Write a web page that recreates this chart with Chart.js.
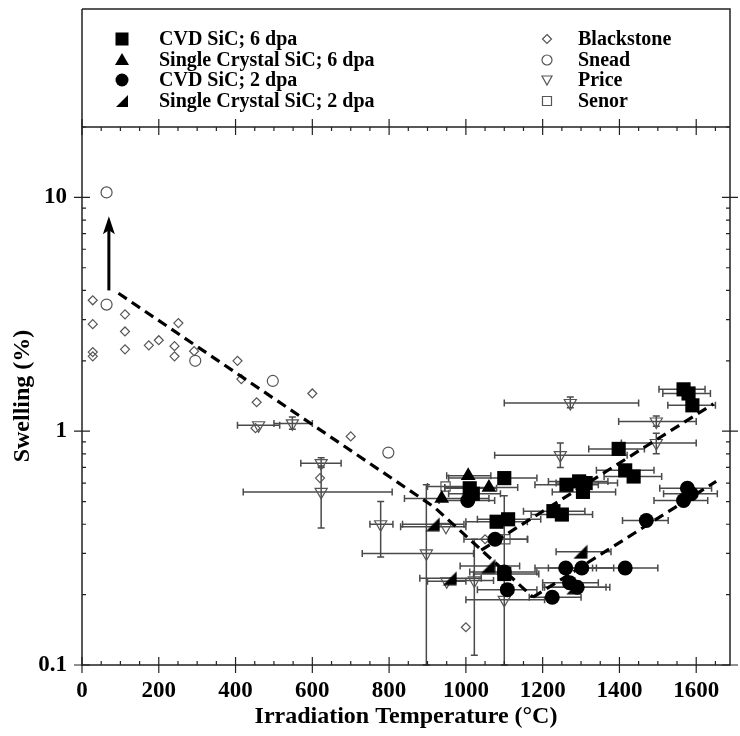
<!DOCTYPE html>
<html>
<head>
<meta charset="utf-8">
<script src="https://cdn.jsdelivr.net/npm/chart.js@4.4.1/dist/chart.umd.min.js"></script>
<style>
html,body{margin:0;padding:0;background:#fff;}
canvas{display:block;}
</style>
</head>
<body>
<canvas id="c" width="740" height="736" style="width:740px;height:736px"></canvas>
<script>
// ---------- tick labels ----------
const xTickValues = [0, 200, 400, 600, 800, 1000, 1200, 1400, 1600];
const yTickValues = [0.1, 1, 10];

// ---------- CVD SiC; 6 dpa (filled squares) ----------
const cvd6T  = [1010, 1018, 1100, 1080, 1110, 1100, 1228, 1250, 1262, 1295, 1305, 1312, 1398, 1415, 1437, 1567, 1580, 1590];
const cvd6S  = [0.57, 0.54, 0.63, 0.41, 0.42, 0.245, 0.455, 0.44, 0.59, 0.61, 0.55, 0.60, 0.84, 0.68, 0.64, 1.51, 1.45, 1.29];
const cvd6Lo = [945, 955, 955, 1000, 1030, 1020, 1150, 1170, 1180, 1215, 1225, 1235, 1320, 1340, 1360, 1503, 1513, 1526];
const cvd6Hi = [1080, 1090, 1185, 1160, 1195, 1190, 1310, 1330, 1345, 1370, 1390, 1395, 1465, 1490, 1510, 1623, 1637, 1650];

// ---------- Single Crystal SiC; 6 dpa (filled triangles) ----------
const sc6T  = [937, 1006, 1060];
const sc6S  = [0.515, 0.645, 0.575];
const sc6Lo = [840, 950, 945];
const sc6Hi = [1060, 1065, 1135];

// ---------- CVD SiC; 2 dpa (filled circles) ----------
const cvd2T  = [1005, 1076, 1100, 1108, 1225, 1260, 1302, 1270, 1290, 1415, 1470, 1577, 1587, 1567];
const cvd2S  = [0.505, 0.345, 0.25, 0.21, 0.195, 0.26, 0.26, 0.225, 0.215, 0.26, 0.415, 0.57, 0.54, 0.505];
const cvd2Lo = [930, 995, 1010, 1030, 1165, 1180, 1215, 1200, 1205, 1330, 1408, 1505, 1515, 1490];
const cvd2Hi = [1075, 1160, 1185, 1185, 1300, 1340, 1385, 1345, 1375, 1500, 1527, 1640, 1655, 1630];

// ---------- Single Crystal SiC; 2 dpa (filled right triangles) ----------
const sc2T  = [914, 958, 1058, 1280, 1298];
const sc2S  = [0.40, 0.235, 0.265, 0.215, 0.305];
const sc2Lo = [835, 880, 985, 1200, 1235];
const sc2Hi = [995, 1040, 1140, 1365, 1378];

// ---------- Blackstone (open diamonds) ----------
const blackT = [28, 28, 28, 28, 112, 112, 112, 174, 200, 241, 241, 251, 292, 405, 415, 455, 452, 600, 620, 700, 1000, 1050];
const blackS = [3.63, 2.87, 2.18, 2.09, 3.16, 2.67, 2.24, 2.33, 2.45, 2.31, 2.09, 2.9, 2.2, 2.0, 1.67, 1.33, 1.03, 1.45, 0.63, 0.95, 0.145, 0.345];

// ---------- Snead (open circles) ----------
const sneadT = [64, 64, 295, 497, 798];
const sneadS = [10.5, 3.48, 2.0, 1.64, 0.81];

// ---------- Price (open down triangles) ----------
const priceT   = [460, 548, 623, 623, 778, 897, 948, 950, 1022, 1100, 1246, 1272, 1496, 1496];
const priceS   = [1.06, 1.08, 0.73, 0.55, 0.40, 0.30, 0.39, 0.228, 0.23, 0.19, 0.79, 1.32, 1.10, 0.89];
const priceTLo = [405, 500, 570, 420, 750, 730, 830, 900, 960, 1000, 1075, 1100, 1398, 1405];
const priceTHi = [515, 600, 675, 808, 810, 1020, 1000, 1000, 1072, 1205, 1420, 1450, 1600, 1600];
const priceSLo = [1.06, 1.02, 0.70, 0.385, 0.29, 0.1, 0.39, 0.228, 0.11, 0.1, 0.70, 1.26, 1.05, 0.80];
const priceSHi = [1.06, 1.15, 0.77, 0.71, 0.50, 0.59, 0.39, 0.228, 0.345, 0.53, 0.89, 1.40, 1.16, 0.98];

// ---------- Senor (open squares) ----------
const senorT  = [947, 1103];
const senorS  = [0.58, 0.345];
const senorLo = [900, 1059];
const senorHi = [1000, 1161];

// ---------- dashed trend lines ----------
const lineAT = [95, 918, 1175];
const lineAS = [3.89, 0.473, 0.195];
const lineBT = [1040, 1645];
const lineBS = [0.31, 1.31];
const lineCT = [1175, 1652];
const lineCS = [0.195, 0.61];

// ---------- arrow (Snead lower bound) ----------
const arrowT = [70, 70];
const arrowS = [4.0, 8.3];

// ---------- legend ----------
const legendLeft  = ['CVD SiC; 6 dpa', 'Single Crystal SiC; 6 dpa', 'CVD SiC; 2 dpa', 'Single Crystal SiC; 2 dpa'];
const legendRight = ['Blackstone', 'Snead', 'Price', 'Senor'];

// ======================================================
const FONT = "'Liberation Serif', 'Times New Roman', serif";
Chart.defaults.font.family = FONT;
Chart.defaults.color = '#000';

function pts(T, S) { return T.map((t, i) => ({x: t, y: S[i]})); }

// right triangle marker (right angle at bottom-right)
const rtri = document.createElement('canvas');
rtri.width = 15; rtri.height = 15;
(function () {
  const g = rtri.getContext('2d');
  g.fillStyle = '#000';
  g.beginPath(); g.moveTo(14.5, 0.5); g.lineTo(14.5, 14.5); g.lineTo(0.5, 14.5); g.closePath(); g.fill();
})();

const GREY = '#555';

const errorBars = {
  id: 'errorBars',
  beforeDatasetsDraw(chart) {
    const {ctx, scales: {x, y}, chartArea: a} = chart;
    ctx.save();
    ctx.beginPath(); ctx.rect(a.left, a.top, a.right - a.left, a.bottom - a.top + 1); ctx.clip();
    ctx.strokeStyle = '#4a4a4a';
    ctx.lineWidth = 1.5;
    const cap = 3.5;
    chart.data.datasets.forEach(ds => {
      if (!ds.xLo && !ds.yLo) return;
      ds.data.forEach((p, i) => {
        const px = x.getPixelForValue(p.x), py = y.getPixelForValue(p.y);
        ctx.beginPath();
        if (ds.xLo) {
          const x0 = x.getPixelForValue(ds.xLo[i]), x1 = x.getPixelForValue(ds.xHi[i]);
          if (x1 - x0 > 1) {
            ctx.moveTo(x0, py); ctx.lineTo(x1, py);
            ctx.moveTo(x0, py - cap); ctx.lineTo(x0, py + cap);
            ctx.moveTo(x1, py - cap); ctx.lineTo(x1, py + cap);
          }
        }
        if (ds.yLo) {
          const y0 = y.getPixelForValue(ds.yLo[i]), y1 = y.getPixelForValue(ds.yHi[i]);
          if (Math.abs(y1 - y0) > 1) {
            ctx.moveTo(px, y0); ctx.lineTo(px, y1);
            ctx.moveTo(px - cap, y0); ctx.lineTo(px + cap, y0);
            ctx.moveTo(px - cap, y1); ctx.lineTo(px + cap, y1);
          }
        }
        ctx.stroke();
      });
    });
    ctx.restore();
  }
};

function legendMarker(ctx, kind, cx, cy) {
  ctx.save();
  ctx.fillStyle = '#000';
  ctx.strokeStyle = GREY;
  ctx.lineWidth = 1.2;
  ctx.beginPath();
  switch (kind) {
    case 'square': ctx.fillRect(cx - 6.5, cy - 6.5, 13, 13); break;
    case 'tri': ctx.moveTo(cx, cy - 7); ctx.lineTo(cx + 7, cy + 5); ctx.lineTo(cx - 7, cy + 5); ctx.closePath(); ctx.fill(); break;
    case 'circle': ctx.arc(cx, cy, 6.5, 0, Math.PI * 2); ctx.fill(); break;
    case 'rtri': ctx.moveTo(cx + 6, cy - 6); ctx.lineTo(cx + 6, cy + 6); ctx.lineTo(cx - 6, cy + 6); ctx.closePath(); ctx.fill(); break;
    case 'diamond': ctx.moveTo(cx, cy - 4.5); ctx.lineTo(cx + 4.5, cy); ctx.lineTo(cx, cy + 4.5); ctx.lineTo(cx - 4.5, cy); ctx.closePath(); ctx.stroke(); break;
    case 'ocircle': ctx.arc(cx, cy, 5, 0, Math.PI * 2); ctx.stroke(); break;
    case 'dtri': ctx.moveTo(cx - 5, cy - 4); ctx.lineTo(cx + 5, cy - 4); ctx.lineTo(cx, cy + 5); ctx.closePath(); ctx.stroke(); break;
    case 'osquare': ctx.rect(cx - 4.5, cy - 4.5, 9, 9); ctx.stroke(); break;
  }
  ctx.restore();
}

const frame = {
  id: 'frame',
  afterDatasetsDraw(chart) {
    const {ctx, scales: {x, y}} = chart;
    // arrow
    const ax = x.getPixelForValue(arrowT[0]);
    const ay0 = y.getPixelForValue(arrowS[0]);
    const ay1 = y.getPixelForValue(arrowS[1]);
    ctx.save();
    ctx.strokeStyle = '#000'; ctx.fillStyle = '#000'; ctx.lineWidth = 3;
    ctx.beginPath(); ctx.moveTo(ax, ay0); ctx.lineTo(ax, ay1 + 12); ctx.stroke();
    ctx.beginPath(); ctx.moveTo(ax, ay1); ctx.lineTo(ax + 6, ay1 + 18); ctx.lineTo(ax, ay1 + 14); ctx.lineTo(ax - 6, ay1 + 18); ctx.closePath(); ctx.fill();
    ctx.restore();
  },
  afterDraw(chart) {
    const {ctx, scales: {x, y}, chartArea: a} = chart;
    const legendTop = 9;
    ctx.save();
    ctx.strokeStyle = '#222'; ctx.lineWidth = 1.5;
    ctx.beginPath();
    ctx.moveTo(a.left, legendTop); ctx.lineTo(a.left, a.bottom); ctx.lineTo(a.right, a.bottom); ctx.lineTo(a.right, legendTop); ctx.lineTo(a.left, legendTop);
    ctx.moveTo(a.left, a.top); ctx.lineTo(a.right, a.top);
    ctx.stroke();
    ctx.lineWidth = 1.2;
    ctx.beginPath();
    // x ticks (bottom & top)
    for (let v = 0; v <= x.max; v += 50) {
      const px = x.getPixelForValue(v);
      if (v % 200 === 0) {
        ctx.moveTo(px, a.bottom - 8); ctx.lineTo(px, a.bottom + 8);
        ctx.moveTo(px, a.top - 8); ctx.lineTo(px, a.top + 8);
      } else {
        ctx.moveTo(px, a.bottom); ctx.lineTo(px, a.bottom - 4);
        ctx.moveTo(px, a.top); ctx.lineTo(px, a.top + 4);
      }
    }
    // y ticks (left & right)
    yTickValues.forEach(d => {
      const py = y.getPixelForValue(d);
      ctx.moveTo(a.left - 8, py); ctx.lineTo(a.left + 8, py);
      ctx.moveTo(a.right - 8, py); ctx.lineTo(a.right + 8, py);
      for (let k = 2; k <= 9; k++) {
        const v = d * k;
        if (v > y.max) break;
        const pm = y.getPixelForValue(v);
        ctx.moveTo(a.left, pm); ctx.lineTo(a.left + 4, pm);
        ctx.moveTo(a.right, pm); ctx.lineTo(a.right - 4, pm);
      }
    });
    ctx.stroke();

    // legend
    const rows = [39, 60, 80, 101];
    const leftKinds = ['square', 'tri', 'circle', 'rtri'];
    const rightKinds = ['diamond', 'ocircle', 'dtri', 'osquare'];
    ctx.font = 'bold 20px ' + FONT;
    ctx.fillStyle = '#000';
    ctx.textBaseline = 'middle';
    ctx.textAlign = 'left';
    rows.forEach((ry, i) => {
      legendMarker(ctx, leftKinds[i], 122, ry);
      ctx.fillText(legendLeft[i], 159, ry + 1);
      legendMarker(ctx, rightKinds[i], 547, ry);
      ctx.fillText(legendRight[i], 578, ry + 1);
    });
    ctx.restore();
  }
};

const dashedLine = (T, S) => ({
  data: pts(T, S), showLine: true, pointRadius: 0, borderColor: '#000', borderWidth: 3.2,
  borderDash: [10, 6], fill: false, order: 0, tension: 0
});

new Chart(document.getElementById('c'), {
  type: 'scatter',
  data: {
    datasets: [
      dashedLine(lineAT, lineAS),
      dashedLine(lineBT, lineBS),
      dashedLine(lineCT, lineCS),
      { label: 'CVD SiC; 6 dpa', data: pts(cvd6T, cvd6S), xLo: cvd6Lo, xHi: cvd6Hi,
        pointStyle: 'rect', pointRadius: 10, backgroundColor: '#000', borderColor: '#000', borderWidth: 0, order: 1 },
      { label: 'Single Crystal SiC; 6 dpa', data: pts(sc6T, sc6S), xLo: sc6Lo, xHi: sc6Hi,
        pointStyle: 'triangle', pointRadius: 8.5, backgroundColor: '#000', borderColor: '#000', borderWidth: 0, order: 1 },
      { label: 'CVD SiC; 2 dpa', data: pts(cvd2T, cvd2S), xLo: cvd2Lo, xHi: cvd2Hi,
        pointStyle: 'circle', pointRadius: 7.5, backgroundColor: '#000', borderColor: '#000', borderWidth: 0, order: 1 },
      { label: 'Single Crystal SiC; 2 dpa', data: pts(sc2T, sc2S), xLo: sc2Lo, xHi: sc2Hi,
        pointStyle: rtri, pointRadius: 7, backgroundColor: '#000', order: 1 },
      { label: 'Blackstone', data: pts(blackT, blackS),
        pointStyle: 'rectRot', pointRadius: 4.5, backgroundColor: 'rgba(0,0,0,0)', borderColor: GREY, borderWidth: 1.2, order: 2 },
      { label: 'Snead', data: pts(sneadT, sneadS),
        pointStyle: 'circle', pointRadius: 5.5, backgroundColor: 'rgba(0,0,0,0)', borderColor: GREY, borderWidth: 1.2, order: 2 },
      { label: 'Price', data: pts(priceT, priceS), xLo: priceTLo, xHi: priceTHi, yLo: priceSLo, yHi: priceSHi,
        pointStyle: 'triangle', pointRotation: 180, pointRadius: 7, backgroundColor: 'rgba(0,0,0,0)', borderColor: GREY, borderWidth: 1.2, order: 2 },
      { label: 'Senor', data: pts(senorT, senorS), xLo: senorLo, xHi: senorHi,
        pointStyle: 'rect', pointRadius: 6.5, backgroundColor: 'rgba(0,0,0,0)', borderColor: GREY, borderWidth: 1.2, order: 2 }
    ]
  },
  options: {
    responsive: false,
    animation: false,
    devicePixelRatio: 1,
    layout: { padding: { top: 127, left: 0, right: 0, bottom: 0 } },
    plugins: { legend: { display: false }, tooltip: { enabled: false } },
    scales: {
      x: {
        type: 'linear', min: 0, max: 1688,
        grid: { display: false, drawTicks: false }, border: { display: false },
        afterBuildTicks: s => { s.ticks = xTickValues.map(v => ({value: v})); },
        afterFit: s => { s.height = 71; },
        ticks: { padding: 12, maxRotation: 0, autoSkip: false, font: { size: 23, weight: 'bold' }, color: '#000',
                 callback: v => String(v) },
        title: { display: true, text: 'Irradiation Temperature (°C)', font: { size: 24, weight: 'bold' }, color: '#000',
                 padding: { top: 0, bottom: 5 } }
      },
      y: {
        type: 'logarithmic', min: 0.1, max: 20,
        grid: { display: false, drawTicks: false }, border: { display: false },
        afterBuildTicks: s => { s.ticks = yTickValues.map(v => ({value: v})); },
        afterFit: s => { s.width = 82; },
        ticks: { padding: 15, autoSkip: false, font: { size: 23, weight: 'bold' }, color: '#000',
                 callback: v => String(v) },
        title: { display: true, text: 'Swelling (%)', font: { size: 24, weight: 'bold' }, color: '#000',
                 padding: { top: 8, bottom: 0 } }
      }
    }
  },
  plugins: [errorBars, frame]
});
</script>
</body>
</html>
